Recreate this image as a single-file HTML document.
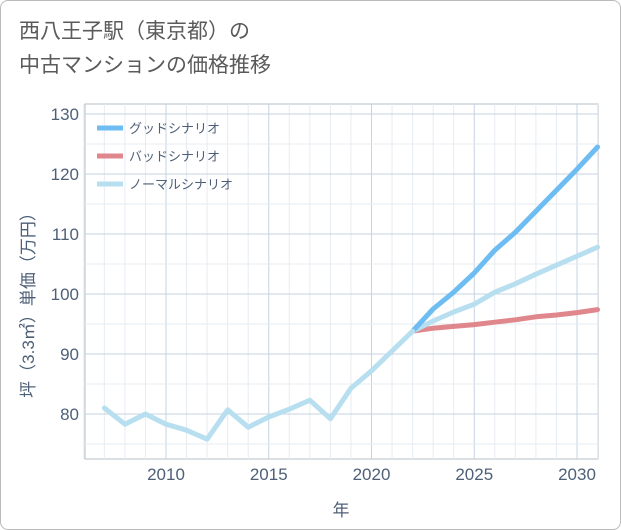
<!DOCTYPE html>
<html><head><meta charset="utf-8"><style>
body{margin:0;background:#fff;}
#wrap{position:relative;width:619px;height:528px;border:1px solid #bbb;border-radius:8px;overflow:hidden;background:#fff;font-family:"Liberation Sans","Noto Sans CJK JP",sans-serif;}
#title{position:absolute;left:18px;top:14px;font-size:21px;line-height:34px;color:#5a5a5a;}
svg{position:absolute;left:0;top:0;}
</style></head><body>
<div id="wrap">
<div id="title">西八王子駅（東京都）の<br>中古マンションの価格推移</div>
<svg id="chart" width="621" height="530"></svg>
</div>
<script>
const years=[2007,2008,2009,2010,2011,2012,2013,2014,2015,2016,2017,2018,2019,2020,2021,2022];
const hist=[81,78.3,80,78.3,77.3,75.8,80.7,77.8,79.5,80.8,82.3,79.2,84.3,87.2,90.5,93.8];
const fYears=[2022,2023,2024,2025,2026,2027,2028,2029,2030,2031];
const good=[93.8,97.5,100.3,103.5,107.3,110.3,113.8,117.3,120.8,124.5];
const bad=[93.8,94.3,94.6,94.9,95.3,95.7,96.2,96.5,96.9,97.4];
const normal=[93.8,95.5,97.0,98.3,100.3,101.7,103.3,104.8,106.3,107.8];
const yTicks=[80,90,100,110,120,130];
const xTicks=[2010,2015,2020,2025,2030];
const L=84,R=597,T=103,B=458;
const xs=v=>165+(v-2010)*20.55;
const ys=v=>413-(v-80)*6;
const svg=document.getElementById('chart');
const NS='http://www.w3.org/2000/svg';
const TC='#4e6078';
function mk(t,a){const e=document.createElementNS(NS,t);for(const k in a)e.setAttribute(k,a[k]);svg.appendChild(e);return e;}
let r=mk('rect',{x:L,y:T,width:R-L,height:B-T,fill:'#fff',stroke:'#b5bfca','stroke-width':1});


for(let y=2006;y<=2031;y++){const g=mk('line',{x1:xs(y),x2:xs(y),y1:T,y2:B,stroke:xTicks.includes(y)?'#c6d3e0':'#e6ecf2','stroke-width':1});

}
for(let v=75;v<=130;v+=5){const g=mk('line',{x1:L,x2:R,y1:ys(v),y2:ys(v),stroke:v%10==0?'#c6d3e0':'#e6ecf2','stroke-width':1});

}
yTicks.forEach(v=>{const t=mk('text',{x:L-6,y:ys(v)+6,'text-anchor':'end','font-size':17,fill:TC});t.textContent=v;

});
xTicks.forEach(v=>{const t=mk('text',{x:xs(v),y:479,'text-anchor':'middle','font-size':17,fill:TC});t.textContent=v;

});
let xt=mk('text',{x:340,y:515,'text-anchor':'middle','font-size':17,fill:TC});xt.textContent='年';


let yt=mk('text',{x:0,y:0,'text-anchor':'middle','font-size':17,fill:TC,transform:'translate(33,300) rotate(-90)'});yt.textContent='坪（3.3㎡）単価（万円）';


function line(xa,va,col,name){const p=mk('polyline',{points:xa.map((x,i)=>xs(x)+','+ys(va[i])).join(' '),fill:'none',stroke:col,'stroke-width':5,'stroke-linejoin':'round','stroke-linecap':'round'});

}
line(fYears,bad,'#e0868d','bad-scenario-line');
line(fYears,normal,'#b8dff0','normal-scenario-line');
line(fYears,good,'#6ebdf2','good-scenario-line');
line(years,hist,'#b8dff0','historical-line');
const leg=[['グッドシナリオ','#6ebdf2'],['バッドシナリオ','#e0868d'],['ノーマルシナリオ','#b8dff0']];
leg.forEach((l,i)=>{const y=127+i*28;
const s=mk('line',{x1:96,x2:122,y1:y,y2:y,stroke:l[1],'stroke-width':5});


const t=mk('text',{x:128,y:y+5,'font-size':13,fill:TC});t.textContent=l[0];

});
</script>
</body></html>
